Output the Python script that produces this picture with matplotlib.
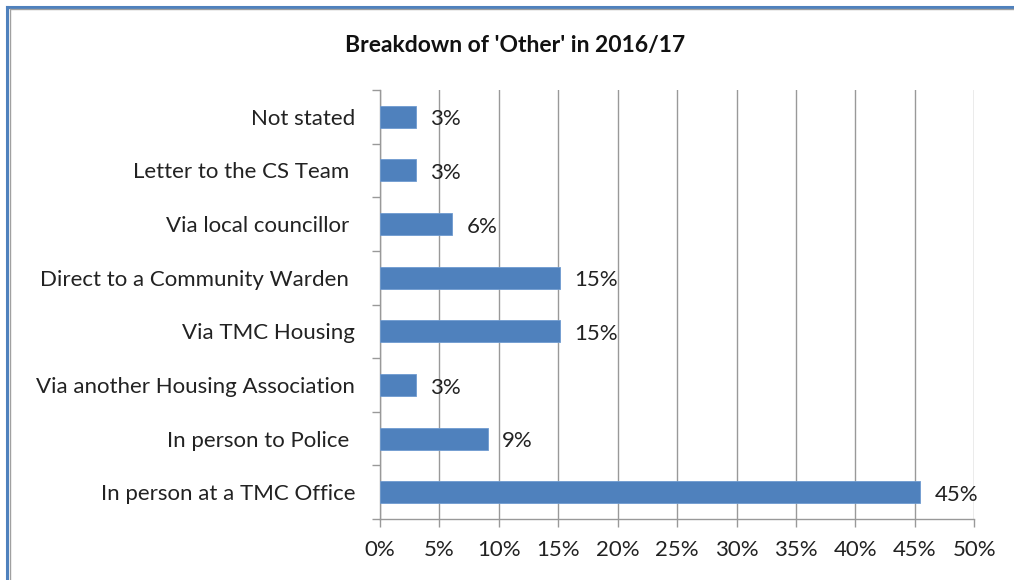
import matplotlib.pyplot as plt
from matplotlib.lines import Line2D

categories = ["In person at a TMC Office", "In person to Police ", "Via another Housing Association",
              "Via TMC Housing", "Direct to a Community Warden ", "Via local councillor ",
              "Letter to the CS Team ", "Not stated"]
shares = [0.4545, 0.0909, 0.0303, 0.1515, 0.1515, 0.0606, 0.0303, 0.0303]
xticks = [0, 0.05, 0.10, 0.15, 0.20, 0.25, 0.30, 0.35, 0.40, 0.45, 0.50]

plt.rcParams['font.family'] = ['Lato', 'DejaVu Sans']

fig = plt.figure(figsize=(10.14, 5.80), dpi=100)
ax = fig.add_axes([0.3748, 0.105, 0.586, 0.740])

ypos = range(len(categories))
ax.barh(ypos, shares, height=0.41, color='#4f81bd', edgecolor='#6f9bd0', linewidth=0.6, zorder=3)
for y, v in zip(ypos, shares):
    ax.text(v + 0.012, y - 0.05, f"{v:.0%}", va='center', ha='left', fontsize=16, color='#222222', zorder=4)

ax.set_xlim(0, 0.5)
ax.set_ylim(-0.5, len(categories) - 0.5)
ax.set_xticks(xticks)
ax.set_xticklabels([f"{t:.0%}" for t in xticks], fontsize=16, color='#222222')
ax.set_yticks(ypos)
ax.set_yticklabels(categories, fontsize=16, color='#222222')
ax.set_yticks([y - 0.5 for y in range(len(categories) + 1)], minor=True)
ax.tick_params(axis='y', which='major', length=0, pad=18)
ax.tick_params(axis='y', which='minor', length=6, color='#999999', width=1)
ax.tick_params(axis='x', length=6, color='#999999', width=1, pad=9)

ax.grid(axis='x', color='#999999', linewidth=1, zorder=0)
for s in ['top', 'right']:
    ax.spines[s].set_visible(False)
for s in ['left', 'bottom']:
    ax.spines[s].set_color('#999999')
    ax.spines[s].set_linewidth(1)

fig.text(0.508, 0.922, "Breakdown of 'Other' in 2016/17", ha='center', va='center',
         fontsize=16.5, fontweight='bold', color='#111111')

# window frame along the top and left edges
fig.add_artist(Line2D([0.0069, 0.0069], [0, 0.988], transform=fig.transFigure, color='#4f81bd', linewidth=2.2))
fig.add_artist(Line2D([0.0069, 1], [0.988, 0.988], transform=fig.transFigure, color='#4f81bd', linewidth=2.2))
fig.add_artist(Line2D([0.0096, 0.0096], [0, 0.984], transform=fig.transFigure, color='#a0a0a0', linewidth=1))
fig.add_artist(Line2D([0.0096, 1], [0.984, 0.984], transform=fig.transFigure, color='#a0a0a0', linewidth=1))

fig.savefig('out.png', dpi=100)
